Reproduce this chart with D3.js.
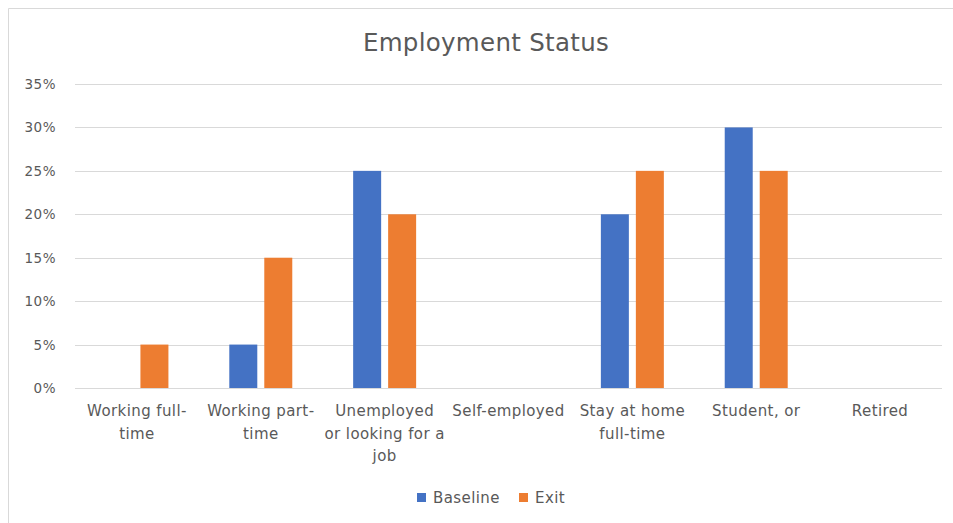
<!DOCTYPE html>
<html>
<head>
<meta charset="utf-8">
<script src="https://cdn.jsdelivr.net/npm/d3@7"></script>
<style>
  body { margin: 0; background: #fff; }
  text { font-family: "DejaVu Sans", "Open Sans", sans-serif; fill: #595959; }
</style>
</head>
<body>
<div id="chart"></div>
<script>
const categories = [
  ["Working full-", "time"],
  ["Working part-", "time"],
  ["Unemployed", "or looking for a", "job"],
  ["Self-employed"],
  ["Stay at home", "full-time"],
  ["Student, or"],
  ["Retired"]
];
const baseline = [0, 5, 25, 0, 20, 30, 0];
const exit = [5, 15, 20, 0, 25, 25, 0];
const yTicks = [0, 5, 10, 15, 20, 25, 30, 35];
const seriesNames = ["Baseline", "Exit"];
const colors = ["#4472C4", "#ED7D31"];

const width = 953, height = 523;
const plot = {left: 75, right: 942, top: 84, bottom: 388};

const svg = d3.select("#chart").append("svg")
  .attr("width", width)
  .attr("height", height);

// chart frame
svg.append("path")
  .attr("d", `M8.5,${height}V8.5H${width}`)
  .attr("fill", "none")
  .attr("stroke", "#d9d9d9");

svg.append("text")
  .attr("x", 486).attr("y", 51)
  .attr("text-anchor", "middle")
  .style("font-size", "24.5px")
  .style("letter-spacing", "0.3px")
  .text("Employment Status");

const y = d3.scaleLinear().domain([0, 35]).range([plot.bottom, plot.top]);
const x = d3.scaleBand().domain(d3.range(categories.length))
  .range([plot.left, plot.right]);
const inner = d3.scaleBand().domain([0, 1])
  .range([0, x.bandwidth()]).paddingInner(0.2).paddingOuter(0.87);

// gridlines
svg.append("g")
  .selectAll("line").data(yTicks).enter()
  .append("line")
  .attr("x1", plot.left).attr("x2", plot.right)
  .attr("y1", d => Math.round(y(d)) + 0.5)
  .attr("y2", d => Math.round(y(d)) + 0.5)
  .attr("stroke", "#d9d9d9");

// y labels
svg.append("g")
  .selectAll("text").data(yTicks).enter()
  .append("text")
  .attr("x", 56)
  .attr("y", d => y(d) + 5)
  .attr("text-anchor", "end")
  .style("font-size", "13.5px")
  .style("letter-spacing", "0.5px")
  .text(d => d + "%");

// bars
const rows = categories.map((c, i) => [baseline[i], exit[i]]);
const groups = svg.append("g").selectAll("g").data(rows).enter()
  .append("g")
  .attr("transform", (d, i) => `translate(${x(i)},0)`);

groups.selectAll("rect").data(d => d.map((v, s) => ({v, s})).filter(d => d.v > 0)).enter()
  .append("rect")
  .attr("x", d => inner(d.s))
  .attr("width", inner.bandwidth())
  .attr("y", d => y(d.v))
  .attr("height", d => y(0) - y(d.v))
  .attr("fill", d => colors[d.s]);

// x labels
const xl = svg.append("g").selectAll("text").data(categories).enter()
  .append("text")
  .attr("text-anchor", "middle")
  .style("font-size", "15px")
  .style("letter-spacing", "0.4px")
  .attr("transform", (d, i) => `translate(${x(i) + x.bandwidth() / 2},416)`);
xl.selectAll("tspan").data(d => d).enter()
  .append("tspan")
  .attr("x", 0)
  .attr("y", (d, i) => i * 22.5)
  .text(d => d);

// legend
const legendX = [417, 519];
const leg = svg.append("g").selectAll("g").data(seriesNames).enter()
  .append("g")
  .attr("transform", (d, i) => `translate(${legendX[i]},493)`);
leg.append("rect")
  .attr("width", 9).attr("height", 9)
  .attr("fill", (d, i) => colors[i]);
leg.append("text")
  .attr("x", 16).attr("y", 9.5)
  .style("font-size", "15px")
  .style("letter-spacing", "0.4px")
  .text(d => d);
</script>
</body>
</html>
